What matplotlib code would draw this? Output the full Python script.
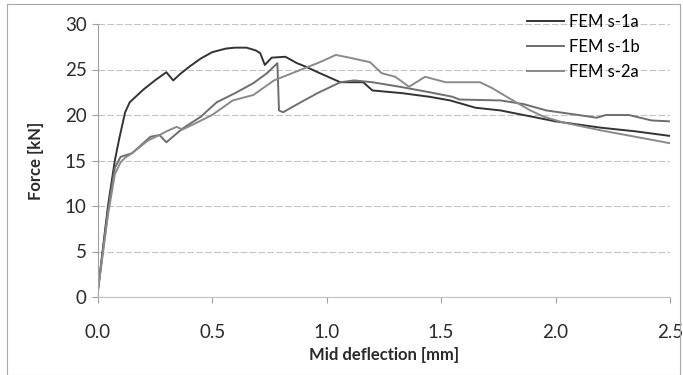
import matplotlib
matplotlib.use("Agg")
import matplotlib.pyplot as plt
from matplotlib.patches import Rectangle

plt.rcParams['font.family'] = ['Lato', 'DejaVu Sans']

# FEM s-1a
x_1a = [0, 0.045, 0.075, 0.095, 0.12, 0.14, 0.2, 0.25, 0.30, 0.33, 0.36, 0.40, 0.45, 0.50,
        0.56, 0.60, 0.65, 0.69, 0.71, 0.73, 0.76, 0.82, 0.87, 0.91, 0.97, 1.06, 1.16, 1.20,
        1.33, 1.45, 1.54, 1.65, 1.76, 1.90, 2.0, 2.2, 2.35, 2.5]
y_1a = [0.5, 10, 15, 17.5, 20.3, 21.4, 22.8, 23.8, 24.7, 23.8, 24.5, 25.3, 26.2, 26.9,
        27.3, 27.4, 27.4, 27.1, 26.8, 25.5, 26.3, 26.4, 25.7, 25.3, 24.6, 23.6, 23.6, 22.7,
        22.4, 22.0, 21.6, 20.8, 20.5, 19.8, 19.3, 18.6, 18.2, 17.7]

# FEM s-1b
x_1b = [0, 0.045, 0.075, 0.10, 0.15, 0.23, 0.27, 0.30, 0.37, 0.45, 0.52, 0.60, 0.68, 0.74,
        0.785, 0.792, 0.81, 0.88, 0.96, 1.06, 1.12, 1.2, 1.32, 1.45, 1.55, 1.58, 1.76, 1.86,
        1.96, 2.1, 2.18, 2.22, 2.32, 2.42, 2.5]
y_1b = [0.5, 9.5, 14.2, 15.4, 15.8, 17.6, 17.8, 17.0, 18.5, 19.8, 21.4, 22.4, 23.5, 24.6,
        25.7, 20.5, 20.3, 21.3, 22.4, 23.6, 23.8, 23.6, 23.1, 22.5, 22.0, 21.7, 21.6, 21.2,
        20.5, 20.0, 19.7, 20.0, 20.0, 19.4, 19.3]

# FEM s-2a
x_2a = [0, 0.045, 0.075, 0.10, 0.12, 0.15, 0.22, 0.27, 0.30, 0.345, 0.37, 0.42, 0.50, 0.59,
        0.68, 0.77, 0.88, 0.97, 1.04, 1.10, 1.19, 1.24, 1.30, 1.36, 1.43, 1.52, 1.67, 1.72,
        1.80, 1.89, 1.95, 2.03, 2.2, 2.35, 2.5]
y_2a = [0.5, 9.0, 13.5, 14.8, 15.3, 15.8, 17.2, 17.8, 18.2, 18.7, 18.4, 19.0, 20.0, 21.6,
        22.2, 23.8, 24.9, 25.8, 26.6, 26.3, 25.8, 24.6, 24.2, 23.1, 24.2, 23.6, 23.6, 23.0,
        21.8, 20.5, 19.8, 19.2, 18.3, 17.6, 16.9]

labels = ['FEM s-1a', 'FEM s-1b', 'FEM s-2a']
colors = ['#333333', '#6e6e6e', '#8a8a8a']

fig = plt.figure(figsize=(6.83, 3.75), dpi=100)
fig.patches.append(Rectangle((7 / 683, 0), 673 / 683, 1 - 4 / 375, transform=fig.transFigure,
                             fill=False, edgecolor='#a8a8a8', linewidth=0.8))
ax = fig.add_axes([0.143, 0.208, 0.838, 0.728])

for xs, ys, lab, c in zip([x_1a, x_1b, x_2a], [y_1a, y_1b, y_2a], labels, colors):
    ax.plot(xs, ys, color=c, linewidth=1.4, label=lab)

ax.set_xlim(0, 2.5)
ax.set_ylim(0, 30)
ax.set_xticks([0, 0.5, 1.0, 1.5, 2.0, 2.5])
ax.set_xticklabels(['0.0', '0.5', '1.0', '1.5', '2.0', '2.5'])
ax.set_yticks(range(0, 31, 5))
ax.yaxis.grid(True, color='#c4c4c4', linewidth=0.8, linestyle=(0, (6, 2)))
ax.set_axisbelow(True)
for s in ['top', 'right']:
    ax.spines[s].set_visible(False)
ax.spines['left'].set_color('#a0a0a0')
ax.spines['bottom'].set_color('#c0c0c0')
ax.tick_params(axis='both', labelsize=13.5, colors='#a0a0a0', labelcolor='#2a2a2a', length=4, width=0.8)
ax.tick_params(axis='x', pad=15.5)
ax.tick_params(axis='y', pad=4)

ax.set_xlabel('Mid deflection [mm]', fontsize=12, fontweight='bold', color='#2a2a2a', labelpad=4)
ax.set_ylabel('Force [kN]', fontsize=12, fontweight='bold', color='#2a2a2a', labelpad=15)

fig.legend(loc='upper left', bbox_to_anchor=(527 / 683, 1 - 14 / 375), frameon=False,
           fontsize=12, handlelength=2.2, handletextpad=0.3, labelspacing=0.55,
           borderpad=0, borderaxespad=0)

fig.savefig('out.png', dpi=100)
